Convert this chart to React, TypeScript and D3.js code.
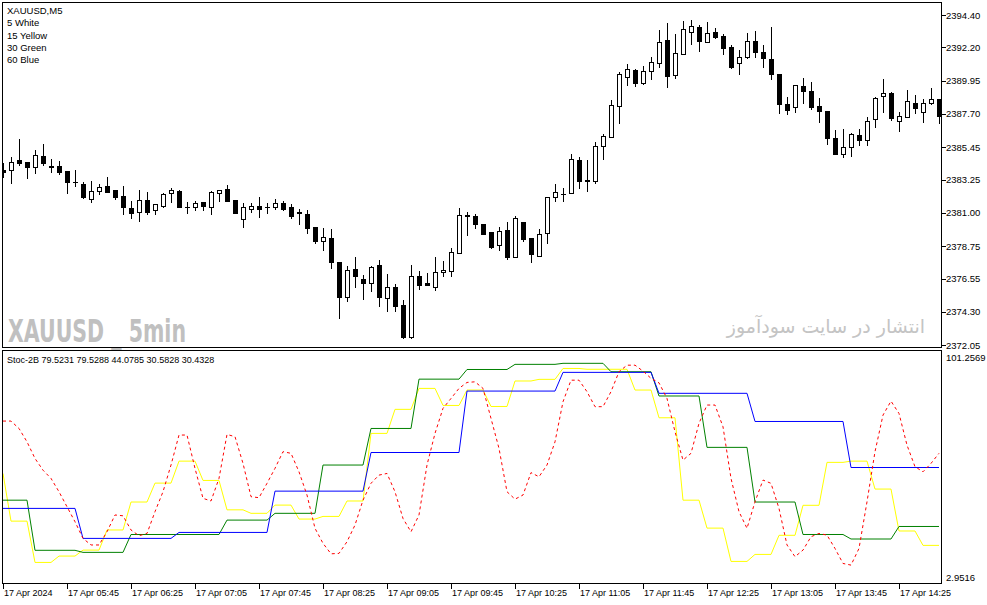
import * as d3 from 'd3';
import React from 'react';

// XAUUSD M5, 17 Apr 2024 05:05 .. 14:50 (118 bars)
const open = [
  2383.91, 2383.91, 2384.59, 2384.43, 2384.09, 2384.86, 2384.18, 2384.18, 2383.82, 2383.12,
  2382.96, 2381.93, 2382.49, 2382.83, 2382.54, 2382.15, 2381.32, 2381.05, 2381.88, 2381.16,
  2381.49, 2382.33, 2382.49, 2381.41, 2381.39, 2381.72, 2381.43, 2382.33, 2382.62, 2381.88,
  2380.57, 2381.25, 2381.47, 2381.41, 2381.39, 2381.66, 2381.39, 2381.05, 2380.93, 2380.07,
  2379.12, 2379.29, 2377.66, 2375.27, 2377.19, 2376.51, 2376.28, 2377.46, 2375.23, 2375.97,
  2374.77, 2372.56, 2376.73, 2376.24, 2376.01, 2376.98, 2377.09, 2378.27, 2380.84, 2380.80,
  2380.26, 2379.69, 2378.79, 2379.85, 2378.04, 2380.37, 2379.29, 2378.11, 2379.63, 2382.06,
  2382.31, 2382.33, 2384.59, 2383.21, 2383.19, 2385.54, 2386.17, 2388.26, 2390.19, 2390.68,
  2389.78, 2390.61, 2391.14, 2392.71, 2390.34, 2391.76, 2393.27, 2393.57, 2392.56, 2393.23,
  2392.98, 2392.22, 2391.14, 2391.58, 2392.62, 2391.88, 2391.41, 2390.41, 2388.36, 2388.16,
  2389.60, 2389.26, 2388.24, 2387.90, 2386.10, 2384.99, 2385.45, 2386.26, 2385.94, 2387.36,
  2388.94, 2389.10, 2387.25, 2387.52, 2388.47, 2387.86, 2388.47, 2388.70,
];
const high = [
  2384.38, 2384.81, 2386.01, 2384.45, 2385.27, 2385.67, 2384.64, 2384.52, 2383.84, 2383.91,
  2383.08, 2383.17, 2382.94, 2383.46, 2382.56, 2382.85, 2381.83, 2382.56, 2382.40, 2381.61,
  2382.37, 2382.71, 2382.56, 2381.72, 2381.77, 2381.74, 2382.51, 2382.56, 2382.90, 2381.88,
  2381.66, 2381.70, 2382.06, 2381.70, 2381.93, 2381.77, 2381.61, 2381.25, 2381.20, 2380.07,
  2379.96, 2379.90, 2377.68, 2377.37, 2378.00, 2376.80, 2377.37, 2377.82, 2376.87, 2376.19,
  2375.11, 2377.48, 2377.03, 2376.96, 2378.00, 2377.77, 2378.61, 2381.32, 2381.05, 2380.91,
  2380.26, 2379.73, 2380.03, 2380.37, 2380.80, 2380.37, 2379.29, 2379.90, 2382.10, 2382.96,
  2382.67, 2384.99, 2384.81, 2384.59, 2385.79, 2386.33, 2388.65, 2390.57, 2391.09, 2390.75,
  2390.95, 2391.54, 2393.39, 2393.88, 2393.10, 2394.00, 2394.07, 2393.73, 2393.91, 2393.50,
  2393.10, 2392.37, 2392.03, 2393.17, 2393.32, 2392.37, 2393.61, 2390.41, 2388.83, 2389.65,
  2390.12, 2389.89, 2388.77, 2387.90, 2386.62, 2386.69, 2386.40, 2386.67, 2387.52, 2388.87,
  2390.07, 2389.17, 2387.82, 2389.33, 2388.99, 2388.70, 2389.44, 2388.70,
];
const low = [
  2383.44, 2383.05, 2384.25, 2383.35, 2383.69, 2384.25, 2383.76, 2383.62, 2382.37, 2382.85,
  2382.02, 2381.74, 2382.27, 2382.42, 2381.93, 2380.91, 2380.64, 2380.48, 2380.93, 2380.93,
  2381.39, 2381.72, 2381.41, 2380.98, 2381.16, 2381.16, 2380.91, 2381.83, 2381.83, 2380.98,
  2380.07, 2381.09, 2380.75, 2380.98, 2381.27, 2381.20, 2380.64, 2380.23, 2379.66, 2378.99,
  2378.50, 2377.26, 2373.91, 2375.06, 2376.01, 2375.18, 2375.74, 2374.70, 2374.32, 2374.38,
  2372.52, 2372.52, 2375.85, 2376.08, 2375.79, 2376.69, 2376.73, 2378.27, 2379.51, 2379.96,
  2379.56, 2378.65, 2378.50, 2377.87, 2378.00, 2379.12, 2377.64, 2378.11, 2378.99, 2381.77,
  2381.77, 2382.33, 2382.67, 2382.51, 2383.05, 2384.66, 2386.17, 2387.11, 2389.66, 2389.62,
  2389.71, 2390.07, 2390.90, 2389.55, 2390.12, 2391.76, 2392.44, 2391.99, 2392.56, 2392.87,
  2391.74, 2390.84, 2390.39, 2391.47, 2391.58, 2390.90, 2390.07, 2387.75, 2387.68, 2387.86,
  2388.47, 2388.02, 2387.14, 2385.67, 2384.97, 2384.77, 2384.88, 2385.58, 2385.58, 2386.80,
  2387.82, 2387.30, 2386.57, 2387.48, 2387.75, 2387.18, 2388.38, 2387.11,
];
const close = [
  2383.78, 2384.47, 2384.41, 2384.13, 2384.91, 2384.36, 2384.11, 2383.80, 2383.12, 2383.08,
  2382.04, 2382.51, 2382.78, 2382.44, 2382.04, 2381.39, 2381.02, 2381.88, 2381.05, 2381.61,
  2382.29, 2382.56, 2381.43, 2381.37, 2381.66, 2381.47, 2382.42, 2382.56, 2381.83, 2380.98,
  2381.41, 2381.47, 2381.25, 2381.37, 2381.66, 2381.25, 2380.82, 2381.00, 2380.00, 2379.06,
  2379.35, 2377.64, 2375.33, 2377.14, 2376.69, 2376.28, 2377.32, 2375.27, 2375.97, 2374.66,
  2372.56, 2376.73, 2376.13, 2376.08, 2376.98, 2377.14, 2378.34, 2380.86, 2380.80, 2380.24,
  2379.56, 2378.72, 2379.78, 2378.04, 2380.64, 2379.24, 2378.20, 2379.56, 2382.10, 2382.44,
  2382.27, 2384.64, 2383.19, 2383.17, 2385.54, 2386.23, 2388.29, 2390.41, 2390.73, 2389.82,
  2390.63, 2391.22, 2392.60, 2390.30, 2391.81, 2393.44, 2393.66, 2392.66, 2393.17, 2392.94,
  2392.15, 2390.90, 2391.58, 2392.62, 2391.88, 2391.47, 2390.39, 2388.36, 2387.97, 2389.65,
  2389.26, 2388.16, 2387.90, 2386.06, 2384.97, 2385.45, 2386.33, 2385.94, 2387.25, 2388.77,
  2389.10, 2387.41, 2387.57, 2388.58, 2388.13, 2388.47, 2388.70, 2387.59,
];

// higher timeframe stochastics: one value per M15 / M30 / H1 period
const stoch15 = [
  47.5, 24.3, 4.2, 7.3, 10.2, 20.0, 33.6, 42.8, 53.5, 44.1, 29.8, 28.1, 32.1, 25.3, 26.6,
  34.1, 67.0, 78.7, 88.9, 80.6, 88.1, 80.1, 92.5, 93.3, 98.6, 98.2, 98.2, 88.1, 74.6, 34.5,
  20.9, 4.7, 8.1, 17.4, 32.0, 52.9, 53.5, 39.9, 19.5, 12.5,
];
const stoch30 = [
  34.5, 10.1, 9.1, 17.8, 17.8, 24.8, 28.1, 51.6, 69.4, 93.4, 98.1, 100.6, 101.1, 97.0, 85.2,
  60.2, 33.6, 17.8, 15.6, 21.7,
];
const stoch60 = [30.5, 15.9, 18.8, 38.9, 57.7, 87.6, 96.7, 86.5, 72.8, 50.4];
// red dotted line, one value per bar
const signal = [
  73.0, 73.0, 69.4, 62.9, 54.8, 49.1, 45.1, 38.6, 31.3, 24.0, 15.9, 12.7, 12.7, 19.1, 27.3,
  26.9, 20.0, 17.2, 18.3, 28.9, 38.6, 51.6, 66.2, 66.2, 50.0, 35.4, 34.1, 45.1, 66.5, 65.4,
  52.4, 36.2, 35.7, 42.7, 50.0, 58.1, 57.3, 48.3, 37.0, 20.8, 13.5, 8.4, 8.6, 14.3, 22.4,
  34.5, 42.7, 46.7, 47.5, 38.6, 25.6, 19.1, 27.3, 51.6, 67.0, 79.2, 84.0, 88.9, 91.8, 92.1,
  88.9, 74.3, 59.7, 38.6, 35.0, 37.0, 47.9, 45.9, 51.6, 62.9, 82.4, 92.9, 92.9, 87.3, 80.0,
  80.0, 87.3, 97.0, 100.2, 100.2, 97.3, 93.8, 91.6, 84.0, 67.8, 54.0, 57.3, 71.9, 80.8, 80.8,
  70.2, 45.1, 28.9, 20.8, 33.7, 44.3, 42.7, 30.5, 12.7, 7.0, 10.2, 16.7, 18.3, 17.5, 11.0,
  3.7, 2.9, 11.0, 33.7, 58.1, 75.9, 82.7, 76.7, 61.3, 50.8, 48.3, 52.4, 57.3,
];

const priceTicks = [2394.40, 2392.20, 2389.95, 2387.70, 2385.45, 2383.25, 2381.00, 2378.75, 2376.55, 2374.30, 2372.05];
const timeLabels = [
  '17 Apr 2024', '17 Apr 05:45', '17 Apr 06:25', '17 Apr 07:05', '17 Apr 07:45', '17 Apr 08:25',
  '17 Apr 09:05', '17 Apr 09:45', '17 Apr 10:25', '17 Apr 11:05', '17 Apr 11:45', '17 Apr 12:25',
  '17 Apr 13:05', '17 Apr 13:45', '17 Apr 14:25',
];
const legend = ['XAUUSD,M5', '5 White', '15 Yellow', '30 Green', '60 Blue'];
const indTitle = 'Stoc-2B 79.5231 79.5288 44.0785 30.5828 30.4328';
const indMin = 2.9516;
const indMax = 101.2569;

const W = 987;
const H = 605;
const left = 2.5;
const right = 941.5;
const mainTop = 2.5;
const mainBottom = 347.5;
const indTop = 350.5;
const indBottom = 583.5;
const font = 'Liberation Sans';

// repeat a higher timeframe value over the M5 bars it covers
const spread = (vals: number[], first: number, size: number) =>
  close.map((_, i) => vals[i < first ? 0 : 1 + Math.floor((i - first) / size)]);

const App = () => {
  const n = close.length;
  const x = d3.scaleLinear().domain([0, n - 1]).range([3, 3 + 8 * (n - 1)]);
  const yP = d3.scaleLinear().domain([2372.05, 2394.40]).range([345, 15]);
  const yI = d3.scaleLinear().domain([indMin, indMax]).range([565, 363]);

  const line = d3.line<number>().x((_, i) => x(i)).y(d => yI(d));

  const series = [
    { vals: spread(stoch15, 1, 3), color: '#ffff00' },
    { vals: spread(stoch30, 4, 6), color: '#008000' },
    { vals: spread(stoch60, 10, 12), color: '#0000ff' },
  ];

  return (
    <svg width={W} height={H} style={{ position: 'absolute', left: 0, top: 0, background: '#fff' }}
      fontFamily={font} fontSize={9}>
      <defs>
        <clipPath id="mainClip"><rect x={3} y={3} width={right - 3} height={mainBottom - 3} /></clipPath>
        <clipPath id="indClip"><rect x={3} y={indTop + 0.5} width={right - 3} height={indBottom - indTop - 1} /></clipPath>
      </defs>

      {/* watermarks */}
      <text x={8} y={342} fontFamily="DejaVu Sans Condensed" fontWeight="bold" fontSize={32}
        fill="#c0c0c0" textLength={178} lengthAdjust="spacingAndGlyphs">XAUUSD _ 5min</text>
      <text x={925} y={333} fontFamily="DejaVu Sans" fontSize={19} fill="#c4c4c4" textAnchor="end">
        انتشار در سایت سودآموز
      </text>

      {/* candles */}
      <g clipPath="url(#mainClip)" shapeRendering="crispEdges">
        {close.map((c, i) => {
          const cx = Math.round(x(i));
          const o = open[i];
          const top = Math.round(yP(Math.max(o, c)));
          const bot = Math.round(yP(Math.min(o, c)));
          const bull = c > o;
          return (
            <g key={i}>
              <line x1={cx + 0.5} x2={cx + 0.5} y1={Math.round(yP(high[i]))} y2={Math.round(yP(low[i])) + 1}
                stroke="#000" />
              {bot - top < 1 ? (
                <line x1={cx - 2} x2={cx + 3} y1={top + 0.5} y2={top + 0.5} stroke="#000" />
              ) : (
                <rect x={cx - 1.5} y={top + 0.5} width={4} height={bot - top}
                  fill={bull ? '#fff' : '#000'} stroke="#000" />
              )}
            </g>
          );
        })}
      </g>

      {/* indicator */}
      <g clipPath="url(#indClip)">
        {series.map((s, k) => (
          <path key={k} d={line(s.vals) ?? ''} fill="none" stroke={s.color} strokeWidth={1} />
        ))}
        <path d={line(signal) ?? ''} fill="none" stroke="#ff0000" strokeWidth={1} strokeDasharray="3,3" />
      </g>

      {/* frames */}
      <g fill="none" stroke="#000" shapeRendering="crispEdges">
        <rect x={left} y={mainTop} width={right - left} height={mainBottom - mainTop} />
        <rect x={left} y={indTop} width={right - left} height={indBottom - indTop} />
        {priceTicks.map(t => (
          <line key={t} x1={right} x2={right + 4} y1={Math.round(yP(t)) + 0.5} y2={Math.round(yP(t)) + 0.5} />
        ))}
        {timeLabels.map((_, k) => (
          <line key={k} x1={x(k * 8) + 0.5} x2={x(k * 8) + 0.5} y1={indBottom} y2={indBottom + 5} />
        ))}
      </g>

      {/* texts */}
      {legend.map((t, k) => (
        <text key={t} x={7} y={14 + k * 12.3} fontSize={9.5}>{t}</text>
      ))}
      <text x={7} y={363}>{indTitle}</text>
      <g fontSize={9.5}>
        {priceTicks.map(t => (
          <text key={t} x={946} y={yP(t) + 3.5}>{t.toFixed(2)}</text>
        ))}
        <text x={946} y={361}>{indMax.toFixed(4)}</text>
        <text x={946} y={580.5}>{indMin.toFixed(4)}</text>
      </g>
      {timeLabels.map((t, k) => (
        <text key={t} x={x(k * 8) + 1} y={596}>{t}</text>
      ))}
    </svg>
  );
};

export default App;
